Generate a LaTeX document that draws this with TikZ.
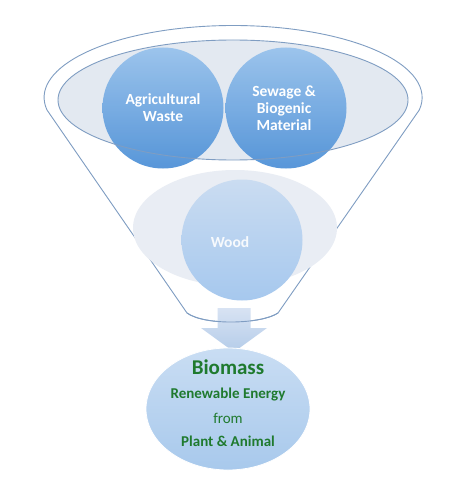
\documentclass[tikz,border=0pt]{standalone}
\usepackage{fontspec}
\setmainfont{Carlito}[BoldFont={Carlito Bold}]
\usetikzlibrary{shapes.geometric}
\definecolor{funnelline}{HTML}{7F9DC2}
\definecolor{ellfill}{HTML}{E3E9F1}
\definecolor{circtop}{HTML}{96C1EC}
\definecolor{circmid}{HTML}{6CA6E1}
\definecolor{circbot}{HTML}{4A8ED6}
\definecolor{woodtop}{HTML}{CADCF1}
\definecolor{woodbot}{HTML}{A6C8EE}
\definecolor{arrtop}{HTML}{D8E3F3}
\definecolor{arrbot}{HTML}{B4CCE9}
\definecolor{biogreen}{HTML}{1F7A2E}
\definecolor{biotop}{HTML}{C9DDF3}
\definecolor{biobot}{HTML}{A8C9EC}
\tikzset{
  funnel/.style={draw=funnelline, line width=0.9pt, fill=white},
  ballnode/.style={circle, minimum size=121pt, inner sep=0pt, top color=circtop, middle color=circmid, bottom color=circbot, draw=none, fill opacity=0.92},
  woodball/.style={circle, minimum size=121pt, inner sep=0pt, top color=woodtop, bottom color=woodbot, draw=none},
  balltext/.style={text=white, font=\bfseries\fontsize{15.5}{17}\selectfont, align=center},
  biotext/.style={text=biogreen, font=\bfseries\fontsize{15}{17}\selectfont},
  arrowshape/.style={top color=arrtop, bottom color=arrbot, draw=none},
}
\begin{document}
\begin{tikzpicture}[x=1pt,y=-1pt]
\useasboundingbox (0,0) rectangle (464,492);
% funnel outline
\path[funnel] (47,110) arc[start angle=170, end angle=370, x radius=189, y radius=72] coordinate (fr)
  -- (278,313) coordinate (fbr) .. controls (262,324) and (205,326) .. (187,313) coordinate (fbl) -- cycle;
% inner ellipse
\node[ellipse, minimum width=350pt, minimum height=120pt, inner sep=0pt, fill=ellfill, draw=none] (ring) at (233,100) {};
% light ellipse behind wood
\node[ellipse, minimum width=204pt, minimum height=116pt, inner sep=0pt, fill=ellfill!80!white, draw=none] (woodbg) at (235,228) {};
% wood ball
\node[woodball] (wood) at (242,240) {};
\node[balltext, text=white!85!woodtop] (woodtxt) at (230,242) {Wood};
% top balls
\node[ballnode] (agri) at (163,108) {};
\node[ballnode] (sew) at (286,108) {};
\node[balltext] (agritxt) at (163,108) {Agricultural\\Waste};
\node[balltext] (sewtxt) at (284,108) {Sewage \&\\Biogenic\\Material};
% inner ellipse outline on top
\draw[funnelline, line width=0.9pt] (ring.center) ellipse[x radius=175, y radius=60];
% arrow
\shade[arrowshape] (217.5,308) -- (250.5,308) -- (250.5,328) -- (267,328) -- (234,352) -- (201,328) -- (217.5,328) -- cycle;
% funnel bottom line over arrow shaft
\draw[funnelline, line width=0.9pt] (fbr) .. controls (262,324) and (205,326) .. (fbl);
% biomass ellipse
\node[ellipse, minimum width=164pt, minimum height=122pt, inner sep=0pt, top color=biotop, bottom color=biobot, draw=white, line width=0.8pt] (bio) at (228,409) {};
\node[text=biogreen, font=\bfseries\fontsize{21}{24}\selectfont] (biot) at (228,367) {Biomass};
\node[biotext] (ren) at (228,395) {Renewable Energy};
\node[text=biogreen, font=\fontsize{15}{17}\selectfont] (from) at (228,418) {from};
\node[biotext] (plant) at (228,441) {Plant \& Animal};
\end{tikzpicture}
\end{document}
